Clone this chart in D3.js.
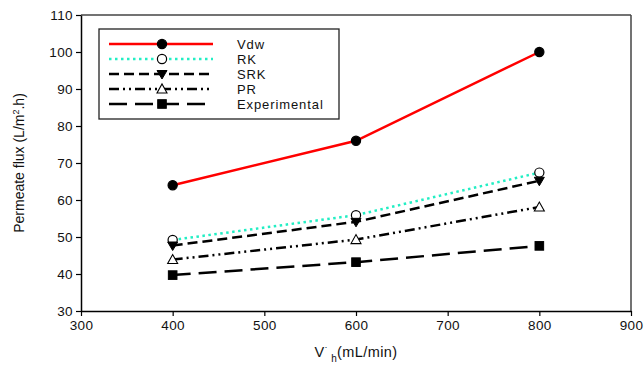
<!DOCTYPE html>
<html>
<head>
<meta charset="utf-8">
<script src="https://cdn.jsdelivr.net/npm/d3@7"></script>
<style>
  body { margin: 0; background: #fff; }
  svg { font-family: "Liberation Sans", Arial, sans-serif; }
</style>
</head>
<body>
<svg width="644" height="367"></svg>
<script>
// data
const flowRates = [400, 600, 800];
const vdw = [64, 76, 100];
const rk = [49.2, 55.9, 67.4];
const srk = [47.7, 54.1, 65.2];
const pr = [43.9, 49.3, 58.1];
const experimental = [39.7, 43.2, 47.6];

const xTicks = [300, 400, 500, 600, 700, 800, 900];
const yTicks = [30, 40, 50, 60, 70, 80, 90, 100, 110];

const seriesList = [
  { name: 'Vdw', values: vdw, color: '#ff0000', width: 2.5, dash: null, marker: 'circle', fill: '#000' },
  { name: 'RK', values: rk, color: '#22eec4', width: 2.5, dash: '2.5,3.5', marker: 'circle', fill: '#fff' },
  { name: 'SRK', values: srk, color: '#000', width: 2.5, dash: '10,5', marker: 'triangleDown', fill: '#000' },
  { name: 'PR', values: pr, color: '#000', width: 2.5, dash: '10,4,2,4,2,4', marker: 'triangleUp', fill: '#fff' },
  { name: 'Experimental', values: experimental, color: '#000', width: 2.5, dash: '18,8', marker: 'square', fill: '#000' },
];

const svg = d3.select('svg');
const margin = { left: 81, top: 15, right: 13, bottom: 56 };
const width = 644 - margin.left - margin.right;
const height = 367 - margin.top - margin.bottom;

const x = d3.scaleLinear().domain([300, 900]).range([0, width]);
const y = d3.scaleLinear().domain([30, 110]).range([height, 0]);

const g = svg.append('g').attr('transform', `translate(${margin.left},${margin.top})`);

// frame on top and right
g.append('line').attr('x1', 0).attr('x2', width).attr('y1', 0).attr('y2', 0)
  .attr('stroke', '#444').attr('stroke-width', 1.5);
g.append('line').attr('x1', width).attr('x2', width).attr('y1', 0).attr('y2', height)
  .attr('stroke', '#444').attr('stroke-width', 1.5);

const xAxis = g.append('g')
  .attr('transform', `translate(0,${height})`)
  .call(d3.axisBottom(x).tickValues(xTicks).tickSize(5).tickPadding(4).tickSizeOuter(0));
const yAxis = g.append('g')
  .call(d3.axisLeft(y).tickValues(yTicks).tickSize(5).tickPadding(3).tickSizeOuter(0));

[xAxis, yAxis].forEach(ax => {
  ax.select('.domain').attr('stroke', '#000').attr('stroke-width', 1.5);
  ax.selectAll('.tick line').attr('stroke', '#000').attr('stroke-width', 1.2);
  ax.selectAll('.tick text').attr('font-size', 13.5).attr('fill', '#111')
    .attr('letter-spacing', 0.4)
    .attr('font-family', '"Liberation Sans", Arial, sans-serif');
});

// marker drawing
function drawMarker(sel, type, fill) {
  if (type === 'circle') {
    sel.append('circle').attr('r', 4.6).attr('fill', fill).attr('stroke', '#000').attr('stroke-width', 1.2);
  } else if (type === 'square') {
    sel.append('rect').attr('x', -4.3).attr('y', -4.3).attr('width', 8.6).attr('height', 8.6)
      .attr('fill', fill).attr('stroke', '#000').attr('stroke-width', 1);
  } else if (type === 'triangleDown') {
    sel.append('path').attr('d', 'M-5,-3.5L5,-3.5L0,5Z').attr('fill', fill).attr('stroke', '#000').attr('stroke-width', 1);
  } else if (type === 'triangleUp') {
    sel.append('path').attr('d', 'M-5,4L5,4L0,-5Z').attr('fill', fill).attr('stroke', '#000').attr('stroke-width', 1.1);
  }
}

const line = d3.line().x(d => x(d[0])).y(d => y(d[1]));

seriesList.forEach(s => {
  const pts = flowRates.map((f, i) => [f, s.values[i]]);
  g.append('path')
    .datum(pts)
    .attr('fill', 'none')
    .attr('stroke', s.color)
    .attr('stroke-width', s.width)
    .attr('stroke-dasharray', s.dash)
    .attr('d', line);
  pts.forEach(p => {
    const m = g.append('g').attr('transform', `translate(${x(p[0])},${y(p[1])})`);
    drawMarker(m, s.marker, s.fill);
  });
});

// legend
const legend = svg.append('g').attr('transform', 'translate(99,29)');
legend.append('rect').attr('width', 240).attr('height', 90)
  .attr('fill', '#fff').attr('stroke', '#222').attr('stroke-width', 1.3);
seriesList.forEach((s, i) => {
  const ly = 15 + i * 15;
  legend.append('line').attr('x1', 10).attr('x2', 114).attr('y1', ly).attr('y2', ly)
    .attr('stroke', s.color).attr('stroke-width', s.width).attr('stroke-dasharray', s.dash);
  const m = legend.append('g').attr('transform', `translate(63,${ly})`);
  drawMarker(m, s.marker, s.fill);
  legend.append('text').attr('x', 138).attr('y', ly + 5)
    .attr('font-size', 13).attr('letter-spacing', 0.9).attr('fill', '#111').text(s.name);
});

// axis titles
svg.append('text')
  .attr('transform', 'translate(24,163) rotate(-90)')
  .attr('text-anchor', 'middle')
  .attr('font-size', 14).attr('fill', '#111')
  .html('Permeate flux (L/m<tspan dy="-5" font-size="9">2</tspan><tspan dy="5">.h)</tspan>');

const xt = svg.append('text')
  .attr('x', 356).attr('y', 357)
  .attr('text-anchor', 'middle')
  .attr('font-size', 14.5).attr('letter-spacing', 0.4).attr('fill', '#111');
xt.append('tspan').text('V');
xt.append('tspan').attr('dy', -7).attr('font-size', 9).text('·');
xt.append('tspan').attr('dy', 12).attr('font-size', 10).text(' h');
xt.append('tspan').attr('dy', -5).text('(mL/min)');
</script>
</body>
</html>
